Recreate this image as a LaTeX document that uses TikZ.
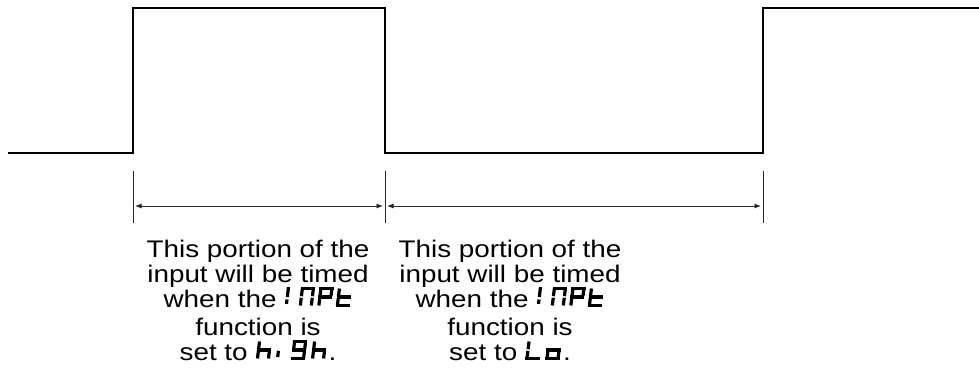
\documentclass[tikz,border=0pt]{standalone}
\usepackage{fontspec}
\setmainfont{Liberation Sans}[FakeStretch=1.16]
\usetikzlibrary{arrows.meta}
% seven-segment glyph helpers
\newcommand{\sgA}{\draw (-1.6,17)--(12.6,17);}
\newcommand{\sgB}{\draw (11,17)--(11,9.3);}
\newcommand{\sgC}{\draw (11,7.7)--(11,0);}
\newcommand{\sgD}{\draw (-1.6,0)--(12.6,0);}
\newcommand{\sgE}{\draw (0,7.7)--(0,0);}
\newcommand{\sgF}{\draw (0,17)--(0,9.3);}
\newcommand{\sgG}{\draw (-1.6,8.5)--(12.6,8.5);}
\newcommand{\sgbox}[2]{\tikz[baseline=-1.5pt,x=1pt,y=1pt,line width=3.2pt,line cap=butt,xslant=0.12]{\path[use as bounding box] (-2,0) rectangle (#1,17);#2}}
\newcommand{\gI}{\sgbox{3}{\draw (0,18.4)--(0,8.6);\draw (0,6)--(0,1.6);}}
\newcommand{\gN}{\sgbox{14.5}{\sgA\sgB\sgC\sgE\sgF}}
\newcommand{\gP}{\sgbox{14.5}{\sgA\sgB\sgE\sgF\sgG}}
\newcommand{\gT}{\sgbox{13}{\sgD\sgE\sgF\sgG}}
\newcommand{\gH}{\sgbox{14}{\sgC\sgE\sgF\sgG}}
\newcommand{\gi}{\sgbox{3}{\draw (0,7.7)--(0,1.4);}}
\newcommand{\gNine}{\sgbox{14}{\sgA\sgB\sgC\sgD\sgF\sgG}}
\newcommand{\gL}{\sgbox{13}{\sgD\sgE\sgF}}
\newcommand{\go}{\sgbox{14}{\sgC\sgD\sgE\sgG}}
\newcommand{\inpt}{\gI\hspace{7pt}\gN\gP\gT}
\begin{document}
\begin{tikzpicture}[x=1pt,y=-1pt,
  wave/.style={line width=1.4pt,line join=miter},
  tick/.style={line width=1pt,draw=black!85},
  span/.style={line width=0.8pt,draw=black!85,{Latex[length=6.5pt,width=5pt]}-{Latex[length=6.5pt,width=5pt]}},
  lbl/.style={anchor=base,inner sep=0pt,font=\fontsize{24}{28}\selectfont}]
\useasboundingbox (0,0) rectangle (979,390);
% waveform
\coordinate (w0) at (8,153);
\coordinate (w1) at (133,153);
\coordinate (w2) at (133,8);
\coordinate (w3) at (385,8);
\coordinate (w4) at (385,153);
\coordinate (w5) at (763,153);
\coordinate (w6) at (763,8);
\coordinate (w7) at (979,8);
\draw[wave] (w0) -- (w1) -- (w2) -- (w3) -- (w4) -- (w5) -- (w6) -- (w7);
% ticks
\coordinate (t1a) at (133,171); \coordinate (t1b) at (133,223);
\coordinate (t2a) at (385,171); \coordinate (t2b) at (385,223);
\coordinate (t3a) at (763,171); \coordinate (t3b) at (763,223);
\draw[tick] (t1a) -- (t1b);
\draw[tick] (t2a) -- (t2b);
\draw[tick] (t3a) -- (t3b);
% spans
\coordinate (s1a) at (135,206); \coordinate (s1b) at (383,206);
\coordinate (s2a) at (387,206); \coordinate (s2b) at (761,206);
\draw[span] (s1a) -- (s1b);
\draw[span] (s2a) -- (s2b);
% labels, left
\node[lbl] (la1) at (258,257) {This portion of the};
\node[lbl] (la2) at (258,282) {input will be timed};
\node[lbl] (la3) at (258,307) {when the \inpt};
\node[lbl] (la4) at (258,335) {function is};
\node[lbl] (la5) at (258,360) {set to \gH\hspace{2pt}\gi\hspace{8pt}\gNine\hspace{2pt}\gH.};
% labels, right
\node[lbl] (lb1) at (510,257) {This portion of the};
\node[lbl] (lb2) at (510,282) {input will be timed};
\node[lbl] (lb3) at (510,307) {when the \inpt};
\node[lbl] (lb4) at (510,335) {function is};
\node[lbl] (lb5) at (510,360) {set to \gL\hspace{3pt}\go.};
\end{tikzpicture}
\end{document}
